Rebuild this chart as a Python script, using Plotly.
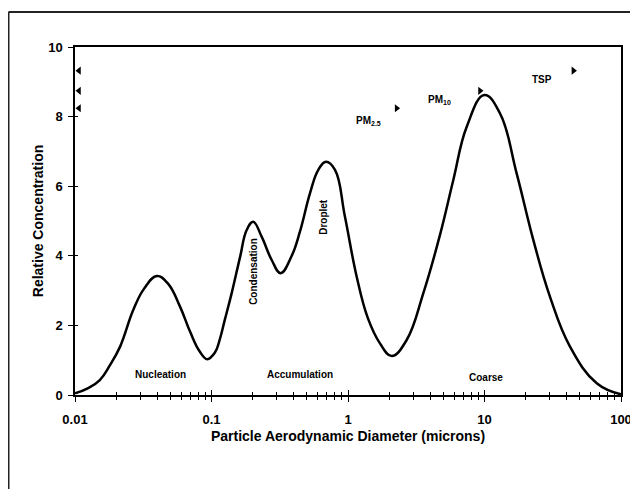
import math
import plotly.graph_objects as go

# Curve data
diameter = [0.01, 0.0125, 0.0152, 0.018, 0.0214, 0.0267, 0.032, 0.0397, 0.048, 0.0588,
            0.07, 0.082, 0.093, 0.106, 0.115, 0.125, 0.141, 0.162, 0.181, 0.202, 0.233,
            0.276, 0.321, 0.387, 0.445, 0.527, 0.606, 0.69, 0.803, 0.95, 1.158, 1.4,
            1.71, 2.09, 2.69, 3.56, 4.72, 5.91, 7.41, 9.97, 13.0, 17.2, 22.8, 30.2,
            42.3, 66.4, 100.0]
concentration = [0.05, 0.2, 0.43, 0.85, 1.39, 2.44, 3.05, 3.42, 3.2, 2.54,
                 1.8, 1.25, 1.03, 1.22, 1.6, 2.15, 2.95, 3.97, 4.74, 4.98, 4.55,
                 3.88, 3.50, 4.0, 4.7, 5.80, 6.47, 6.70, 6.47, 5.12, 3.40, 2.2,
                 1.49, 1.12, 1.58, 2.92, 4.6, 6.18, 7.71, 8.62, 8.09, 6.37, 4.45, 2.82,
                 1.39, 0.34, 0.02]

# Size-cut markers
cut_labels = ["PM<sub>2.5</sub>", "PM<sub>10</sub>", "TSP"]
cut_x = [2.27, 9.27, 44.8]
cut_y = [8.24, 8.74, 9.32]
left_x = [0.0107, 0.0107, 0.0107]
label_x = [1.41, 4.72, 26.2]
label_y = [7.88, 8.48, 9.08]

# Mode labels
mode_labels = ["Nucleation", "Accumulation", "Coarse"]
mode_x = [0.042, 0.445, 10.3]
mode_y = [0.60, 0.60, 0.51]
vert_labels = ["Condensation", "Droplet"]
vert_x = [0.205, 0.667]
vert_y = [3.54, 5.12]

major_ticks = [0.01, 0.1, 1, 10, 100]
major_text = ["0.01", "0.1", "1", "10", "100"]
minor_ticks = [m * d for d in [0.01, 0.1, 1, 10] for m in range(2, 10)]
y_ticks = [0, 2, 4, 6, 8, 10]

font_main = "Liberation Sans, Arial, sans-serif"
ann_font = dict(family=font_main, size=10, color="black")
tick_font = dict(family=font_main, size=13, color="black")
title_font = dict(family=font_main, size=14, color="black")

fig = go.Figure()
fig.add_trace(go.Scatter(x=diameter, y=concentration, mode="lines",
                         line=dict(color="black", width=2.5, shape="spline", smoothing=1.2),
                         hoverinfo="skip", showlegend=False))
fig.add_trace(go.Scatter(x=cut_x, y=cut_y, mode="markers",
                         marker=dict(symbol="triangle-right", size=7, color="black"),
                         showlegend=False))
fig.add_trace(go.Scatter(x=left_x, y=cut_y, mode="markers",
                         marker=dict(symbol="triangle-left", size=7, color="black"),
                         showlegend=False))
# invisible trace so the overlay axes (for crossing ticks) are drawn
fig.add_trace(go.Scatter(x=[0.01], y=[0], mode="markers", xaxis="x2", yaxis="y2",
                         marker=dict(opacity=0), hoverinfo="skip", showlegend=False))

for t, x, y in zip(cut_labels, label_x, label_y):
    fig.add_annotation(x=math.log10(x), y=y, xref="x", yref="y", text="<b>" + t + "</b>",
                       showarrow=False, font=ann_font)
for t, x, y in zip(mode_labels, mode_x, mode_y):
    fig.add_annotation(x=math.log10(x), y=y, xref="x", yref="y", text="<b>" + t + "</b>",
                       showarrow=False, font=ann_font)
for t, x, y in zip(vert_labels, vert_x, vert_y):
    fig.add_annotation(x=math.log10(x), y=y, xref="x", yref="y", text="<b>" + t + "</b>",
                       showarrow=False, textangle=-90, font=ann_font)

fig.update_layout(
    width=630, height=481,
    margin=dict(l=67, r=17, t=39, b=94),
    paper_bgcolor="white", plot_bgcolor="white",
    xaxis=dict(type="log", range=[-2, 2], tickmode="array", tickvals=major_ticks,
               ticktext=["<b>" + t + "</b>" for t in major_text],
               ticks="outside", ticklen=5, tickwidth=1, tickcolor="black",
               ticklabelstandoff=7, ticklabeloverflow="allow",
               minor=dict(tickmode="array", tickvals=minor_ticks, ticks="outside", ticklen=3,
                          tickwidth=1, tickcolor="black", showgrid=False),
               showline=True, linecolor="black", linewidth=1.5, mirror=True, showgrid=False,
               zeroline=False, tickfont=tick_font, automargin=False,
               title=dict(text="<b>Particle Aerodynamic Diameter (microns)</b>", font=title_font,
                          standoff=5)),
    yaxis=dict(range=[0, 10], tickmode="array", tickvals=y_ticks,
               ticktext=["<b>" + str(v) + "</b>" for v in y_ticks],
               ticks="outside", ticklen=5, tickwidth=1, tickcolor="black",
               ticklabelstandoff=3,
               showline=True, linecolor="black", linewidth=1.5, mirror=True, showgrid=False,
               zeroline=False, tickfont=tick_font, automargin=False,
               title=dict(text="<b>Relative Concentration</b>", font=title_font, standoff=1)),
    xaxis2=dict(type="log", range=[-2, 2], overlaying="x", anchor="y2", side="bottom",
                tickmode="array", tickvals=major_ticks, ticks="inside", ticklen=5, tickwidth=1,
                tickcolor="black", showticklabels=False, showgrid=False, showline=False,
                zeroline=False, automargin=False,
                minor=dict(tickmode="array", tickvals=minor_ticks, ticks="inside", ticklen=3,
                           tickwidth=1, tickcolor="black", showgrid=False)),
    yaxis2=dict(range=[0, 10], overlaying="y", anchor="x2", side="left",
                tickmode="array", tickvals=y_ticks, ticks="inside", ticklen=3, tickwidth=1,
                tickcolor="black", showticklabels=False, showgrid=False, showline=False,
                zeroline=False, automargin=False),
    showlegend=False,
)

# outer frame (top and left edges)
fig.add_shape(type="line", xref="paper", yref="paper", x0=-0.1218, x1=1.1, y0=1.1006, y1=1.1006,
              line=dict(color="#222", width=2))
fig.add_shape(type="line", xref="paper", yref="paper", x0=-0.1218, x1=-0.1218, y0=1.1006, y1=-0.3,
              line=dict(color="#222", width=2))

fig.write_html("out.html")
